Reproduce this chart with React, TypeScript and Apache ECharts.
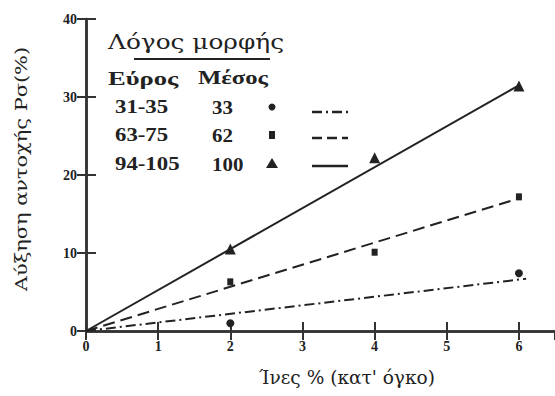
import React, { useEffect, useRef } from "react";
import * as echarts from "echarts";

const circleData: [number, number][] = [[2, 1.0], [6, 7.4]];
const squareData: [number, number][] = [[2, 6.3], [4, 10.1], [6, 17.2]];
const triangleData: [number, number][] = [[2, 10.5], [4, 22.2], [6, 31.4]];
const fit33: [number, number][] = [[0, 0], [6.1, 6.7]];
const fit62: [number, number][] = [[0, 0], [6.0, 17.0]];
const fit100: [number, number][] = [[0, 0], [6.0, 31.5]];

const legendTitle = "Λόγος μορφής";
const legendHead = ["Εύρος", "Μέσος"];
const legendRanges = ["31-35", "63-75", "94-105"];
const legendMeans = ["33", "62", "100"];
const xName = "Ίνες % (κατ' όγκο)";
const yName = "Αύξηση αντοχής Ρσ(%)";

const INK = "#222";
const AX = "#333";
const BOLD = "Liberation Serif";
const REG = "DejaVu Serif";

export default function App() {
  const ref = useRef<HTMLDivElement>(null);
  useEffect(() => {
    if (!ref.current) return;
    const chart = echarts.init(ref.current, null, { renderer: "svg" });
    const rowsY = [107, 135, 164];
    const lineY = [112, 138, 166];
    const dashes: any[] = [[10, 4, 2, 4], [10, 5], null];
    const txt = (x: number, y: number, text: string, size: number, family: string, weight: string, sx: number, align = "left", extra: any = {}) => ({
      type: "text", x, y, scaleX: sx, ...extra,
      style: { text, fontFamily: family, fontSize: size, fontWeight: weight, fill: INK, align, verticalAlign: "middle" },
    });
    const graphic: any[] = [
      txt(108, 42, legendTitle, 20, REG, "normal", 1.24),
      { type: "line", shape: { x1: 134, y1: 59, x2: 270, y2: 59 }, style: { stroke: INK, lineWidth: 2 } },
      txt(108, 78, legendHead[0], 19, BOLD, "bold", 1.4),
      txt(198, 78, legendHead[1], 19, BOLD, "bold", 1.3),
    ];
    legendRanges.forEach((r, i) => {
      const y = rowsY[i];
      graphic.push(txt(115, y, r, 19, BOLD, "bold", 1.2));
      graphic.push(txt(212, y, legendMeans[i], 19, BOLD, "bold", 1.1));
      if (i === 0) graphic.push({ type: "circle", shape: { cx: 272, cy: y, r: 3.5 }, style: { fill: INK } });
      if (i === 1) graphic.push({ type: "rect", shape: { x: 269, y: y - 4, width: 6, height: 8 }, style: { fill: INK } });
      if (i === 2) graphic.push({ type: "polygon", shape: { points: [[272, y - 6], [278, y + 4], [266, y + 4]] }, style: { fill: INK } });
      graphic.push({ type: "line", shape: { x1: 312, y1: lineY[i], x2: 348, y2: lineY[i] }, style: { stroke: INK, lineWidth: 2.5, lineDash: dashes[i] } });
    });
    graphic.push(txt(21, 169, yName, 17, REG, "normal", 1.23, "center", { rotation: Math.PI / 2 }));
    graphic.push(txt(347, 378, xName, 18, REG, "normal", 1.03, "center"));

    const tickLabel = { color: INK, fontFamily: BOLD, fontWeight: "bold" as const, fontSize: 14 };
    const mark = { color: INK, opacity: 1 };
    chart.setOption({
      animation: false,
      grid: { left: 86, top: 19, right: -2, bottom: 65 },
      graphic,
      xAxis: [
        {
          type: "value", min: 0, max: 6.5, interval: 1,
          axisLine: { lineStyle: { color: AX, width: 2.5 } },
          axisTick: { inside: true, length: 9, lineStyle: { color: AX, width: 2 } },
          axisLabel: { ...tickLabel, margin: 8, showMaxLabel: false },
          splitLine: { show: false },
        },
        {
          type: "value", min: 0, max: 6.5, interval: 1, position: "top",
          axisLine: { show: true, lineStyle: { color: AX, width: 2.5 } },
          axisTick: { show: true, inside: true, length: 9, lineStyle: { color: AX, width: 2 } },
          axisLabel: { show: false }, splitLine: { show: false },
        },
      ],
      yAxis: [
        {
          type: "value", min: 0, max: 40, interval: 10,
          axisLine: { show: true, lineStyle: { color: AX, width: 2.5 } },
          axisTick: { show: true, inside: true, length: 10, lineStyle: { color: AX, width: 2 } },
          axisLabel: { ...tickLabel, margin: 9 },
          splitLine: { show: false },
        },
        {
          type: "value", min: 0, max: 40, interval: 10, position: "right",
          axisLine: { show: true, lineStyle: { color: AX, width: 2.5 } },
          axisTick: { show: true, inside: true, length: 9, lineStyle: { color: AX, width: 2 } },
          axisLabel: { show: false }, splitLine: { show: false },
        },
      ],
      series: [
        { type: "line", data: fit33, symbol: "none", lineStyle: { color: INK, width: 2, type: [10, 4, 2, 4] } },
        { type: "line", data: fit62, symbol: "none", lineStyle: { color: INK, width: 2, type: [12, 6] } },
        { type: "line", data: fit100, symbol: "none", lineStyle: { color: INK, width: 2 } },
        { type: "scatter", data: circleData, symbol: "circle", symbolSize: 8, itemStyle: mark },
        { type: "scatter", data: squareData, symbol: "rect", symbolSize: [6, 7], itemStyle: mark },
        { type: "scatter", data: triangleData, symbol: "triangle", symbolSize: 11, itemStyle: mark },
      ],
    });
    return () => chart.dispose();
  }, []);
  return <div ref={ref} style={{ width: 555, height: 396, position: "absolute", left: 0, top: 0 }} />;
}
